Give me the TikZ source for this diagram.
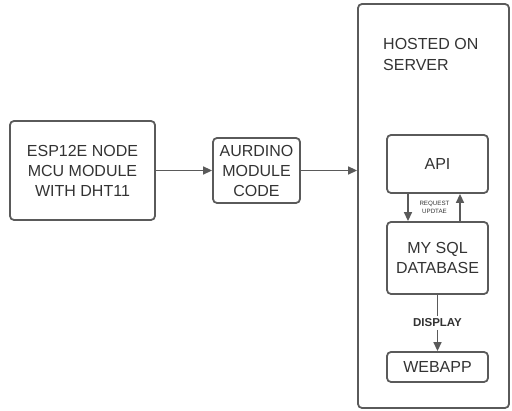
\documentclass[tikz,border=0pt]{standalone}
\usepackage{fontspec}
\setmainfont{Liberation Sans}
\usetikzlibrary{arrows.meta}
\definecolor{lc}{HTML}{5A5A5A}
\definecolor{tc}{HTML}{333333}
\begin{document}
\begin{tikzpicture}[x=1pt,y=-1pt,
  box/.style={draw=lc, line width=1.8pt, rounded corners=4pt, align=center, text=tc,
    font=\fontsize{16}{20}\selectfont, inner sep=0pt},
  arr/.style={draw=lc, line width=1.4pt, -{Triangle[length=9pt,width=8pt]}},
  ln/.style={draw=lc, line width=1.4pt}]
\useasboundingbox (0,0) rectangle (512,411);
\node[box, minimum width=145pt, minimum height=99pt] (esp) at (82.5,170.5) {ESP12E NODE\\MCU MODULE\\WITH DHT11};
\node[box, minimum width=87pt, minimum height=65pt] (aur) at (256.5,170.5) {AURDINO\\MODULE\\CODE};
\node[box, minimum width=151pt, minimum height=404pt] (srv) at (433.5,206) {};
\node[anchor=north west, align=left, text=tc, font=\fontsize{16}{21}\selectfont, inner sep=0pt] (host) at (383,38) {HOSTED ON\\SERVER};
\node[box, minimum width=101pt, minimum height=58pt] (api) at (437.5,164) {API};
\node[box, minimum width=101pt, minimum height=72pt] (sql) at (437.5,258) {MY SQL\\DATABASE};
\node[box, minimum width=101pt, minimum height=30pt] (web) at (437.5,367) {WEBAPP};
\node[align=center, text=tc, font=\fontsize{6.2}{8.5}\selectfont, inner sep=0pt] (req) at (434.5,207.5) {REQUEST\\UPDTAE};
\node[text=tc, font=\bfseries\fontsize{11.5}{13}\selectfont, inner sep=2.5pt] (disp) at (437.5,323) {DISPLAY};
\draw[arr] (esp.east) -- (aur.west);
\draw[arr] (aur.east) -- (srv.west |- aur.east);
\draw[arr] ([xshift=-29.5pt]api.south) -- ([xshift=-29.5pt]sql.north);
\draw[arr] ([xshift=22.5pt]sql.north) -- ([xshift=22.5pt]api.south);
\draw[ln] (sql.south) -- (disp.north);
\draw[arr] (disp.south) -- (web.north);
\end{tikzpicture}
\end{document}
